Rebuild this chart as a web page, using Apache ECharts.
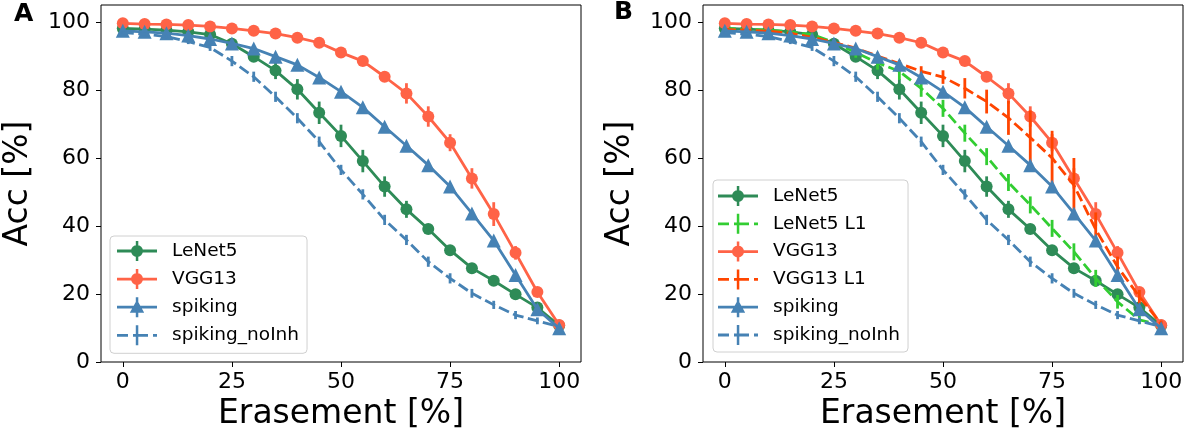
<!DOCTYPE html>
<html>
<head>
<meta charset="utf-8">
<script src="https://cdn.jsdelivr.net/npm/echarts@6/dist/echarts.min.js"></script>
<style>
html,body{margin:0;padding:0;background:#fff;}
#chart{width:1193px;height:438px;}
</style>
</head>
<body>
<div id="chart"></div>
<script>
// ---- data ----
const erasement = [0,5,10,15,20,25,30,35,40,45,50,55,60,65,70,75,80,85,90,95,100];
const xTicks = [0,25,50,75,100];
const yTicks = [0,20,40,60,80,100];

const lenet5      = [98.1,97.9,97.6,97.1,96.3,93.6,89.8,85.7,80.2,73.3,66.5,59.1,51.6,44.9,39.1,32.9,27.6,23.9,19.9,16.0,10.7];
const lenet5Err   = [0.3,0.3,0.3,0.3,0.4,0.6,1.5,2.5,3,3.3,3.3,3.3,3,2.5,1.2,0.8,0.7,0.6,0.5,0.5,0.3];
const lenet5L1    = [98.1,97.9,97.6,97.1,96.3,94.0,91.0,88.0,85.5,80.5,74.6,67.3,60.4,52.8,46.2,39.3,32.4,24.6,17.7,12.4,10.9];
const lenet5L1Err = [0.3,0.3,0.3,0.4,0.5,0.8,1.5,2,2.5,2.5,2.5,2.5,2.5,2.5,2.5,2.5,2.5,2.5,2,1.2,0.5];
const vgg13       = [99.6,99.4,99.3,99.1,98.7,98.1,97.4,96.6,95.4,93.9,91.0,88.5,83.9,79.0,72.2,64.5,54.0,43.5,32.1,20.6,10.9];
const vgg13Err    = [0.2,0.2,0.2,0.2,0.2,0.3,0.3,0.3,0.4,0.5,0.6,1,1.5,3,3,2.5,3,3.5,2,1,0.5];
const vgg13L1     = [97.8,97.6,97.3,96.7,95.5,94.0,92.3,90.0,87.8,85.5,83.8,80.5,76.6,71.8,66.0,60.0,52.0,39.0,28.0,19.2,11.2];
const vgg13L1Err  = [0.3,0.3,0.3,0.4,0.5,0.6,0.8,1,1,1.5,2,3,3.5,5,8,8,8,5,3,2,1];
const spiking     = [97.4,97.1,96.7,96.0,95.0,93.7,92.2,89.8,87.4,83.7,79.5,74.9,69.2,63.6,57.9,51.6,43.7,35.7,25.6,15.5,9.9];
const spikingErr  = [0.2,0.2,0.2,0.2,0.2,0.3,0.3,0.3,0.3,0.3,0.3,0.3,0.3,0.3,0.3,0.3,0.3,0.3,0.3,0.3,0.2];
const noInh       = [96.9,96.4,95.7,94.2,92.5,88.5,83.9,78.0,71.7,64.8,56.5,49.3,41.8,35.9,29.5,24.6,20.2,16.8,13.8,12.1,10.4];
const noInhErr    = [0.3,0.4,0.5,0.7,1,1.5,1.5,1.5,1.5,1.5,1.5,1.5,1.5,1.5,1.5,1.5,1.3,1.2,1.2,1,0.5];

// ---- styles ----
const FONT = 'DejaVu Sans';
const C = {
  lenet: '#2E8B57', lenetL1: '#32CD32', vgg: '#FF6347', vggL1: '#FF4500', spk: '#4682B4'
};
const LW = 2.8;
const ICON_CIRCLE = 'path://M0,8.6h40v2.8h-40z M18.8,0h2.5v20h-2.5z M14,10a6,6 0 1,1 12,0a6,6 0 1,1 -12,0z';
const ICON_TRI = 'path://M0,8.6h40v2.8h-40z M18.8,0h2.5v20h-2.5z M20,2.5L27.2,15.5L12.8,15.5z';
const ICON_DASH = 'path://M0,8.6h11v2.8h-11z M16,8.6h15v2.8h-15z M36,8.6h4v2.8h-4z M18.8,0h2.5v20h-2.5z';

const seriesDefs = [
  {name:'LeNet5', y:lenet5, e:lenet5Err, color:C.lenet, symbol:'circle', size:12, dash:false, icon:ICON_CIRCLE, panels:[0,1]},
  {name:'LeNet5 L1', y:lenet5L1, e:lenet5L1Err, color:C.lenetL1, symbol:'none', size:0, dash:true, icon:ICON_DASH, panels:[1]},
  {name:'VGG13', y:vgg13, e:vgg13Err, color:C.vgg, symbol:'circle', size:12, dash:false, icon:ICON_CIRCLE, panels:[0,1]},
  {name:'VGG13 L1', y:vgg13L1, e:vgg13L1Err, color:C.vggL1, symbol:'none', size:0, dash:true, icon:ICON_DASH, panels:[1]},
  {name:'spiking', y:spiking, e:spikingErr, color:C.spk, symbol:'triangle', size:14, dash:false, icon:ICON_TRI, panels:[0,1]},
  {name:'spiking_noInh', y:noInh, e:noInhErr, color:C.spk, symbol:'none', size:0, dash:true, icon:ICON_DASH, panels:[0,1]}
];

function errRenderer(color){
  return function(params, api){
    const x = api.value(0), y = api.value(1), e = api.value(2);
    const p1 = api.coord([x, y - e]), p2 = api.coord([x, y + e]);
    return {type:'line', shape:{x1:p1[0], y1:p1[1], x2:p2[0], y2:p2[1]},
            style:{stroke:color, lineWidth:LW}};
  };
}

const series = [];
const legendData = [[],[]];
[0,1].forEach(function(p){
  seriesDefs.forEach(function(d, i){
    if (d.panels.indexOf(p) < 0) return;
    series.push({
      type:'custom', name:d.name + '_err' + p, xAxisIndex:p, yAxisIndex:p,
      renderItem: errRenderer(d.color), z: 2 + i*0.1,
      encode:{x:0, y:1},
      data: erasement.map(function(x,k){ return [x, d.y[k], d.e[k]]; }),
      silent:true
    });
    series.push({
      type:'line', name:d.name, xAxisIndex:p, yAxisIndex:p,
      data: erasement.map(function(x,k){ return [x, d.y[k]]; }),
      symbol:d.symbol, symbolSize:d.size, showSymbol:d.symbol !== 'none',
      z: 2 + i*0.1 + 0.05,
      lineStyle:{color:d.color, width:LW, type: d.dash ? [11,4.5] : 'solid'},
      itemStyle:{color:d.color, borderWidth:0},
      emphasis:{disabled:true}, silent:true
    });
    legendData[p].push({name:d.name, icon:d.icon});
  });
});

function xAxis(p){
  return {
    type:'value', gridIndex:p, min:-5, max:105,
    name:'Erasement [%]', nameLocation:'middle', nameGap:27,
    nameTextStyle:{fontFamily:FONT, fontSize:33, color:'#000'},
    axisLine:{show:false, onZero:false},
    axisTick:{show:true, length:5, inside:false, customValues:xTicks, lineStyle:{color:'#000', width:1}},
    axisLabel:{customValues:xTicks, fontFamily:FONT, fontSize:22, color:'#000', margin:9},
    splitLine:{show:false}
  };
}
function yAxis(p){
  return {
    type:'value', gridIndex:p, min:0, max:105,
    name:'Acc [%]', nameLocation:'middle', nameGap:66, nameRotate:90,
    nameTextStyle:{fontFamily:FONT, fontSize:33, color:'#000'},
    axisLine:{show:false, onZero:false},
    axisTick:{show:true, length:5, inside:false, customValues:yTicks, lineStyle:{color:'#000', width:1}},
    axisLabel:{customValues:yTicks, fontFamily:FONT, fontSize:22, color:'#000', margin:11},
    splitLine:{show:false}
  };
}

function legend(p, left, top, padding, gap){
  return {
    orient:'vertical', left:left, top:top, data:legendData[p],
    itemWidth:40, itemHeight:20, itemGap:gap, itemTextGap:15,
    padding:padding, backgroundColor:'rgba(255,255,255,0.8)',
    borderColor:'#d0d0d0', borderWidth:1, borderRadius:4,
    selectedMode:false,
    itemStyle:{borderWidth:0},
    textStyle:{fontFamily:FONT, fontSize:18.5, color:'#000', padding:[0,0,0,10]}
  };
}

const option = {
  animation:false,
  backgroundColor:'#fff',
  grid:[
    {left:101, top:5, width:480, height:357, show:true, borderColor:'#000', borderWidth:1, backgroundColor:'transparent'},
    {left:703, top:5, width:480, height:357, show:true, borderColor:'#000', borderWidth:1, backgroundColor:'transparent'}
  ],
  xAxis:[xAxis(0), xAxis(1)],
  yAxis:[yAxis(0), yAxis(1)],
  legend:[
    legend(0, 110, 236, [5,8,8,7], 8.1),
    legend(1, 713, 180, [6,8,7,5], 7.8)
  ],
  graphic:[
    {type:'text', left:14, top:2, style:{text:'A', fontFamily:FONT, fontWeight:'bold', fontSize:25, fill:'#000'}},
    {type:'text', left:614, top:0, style:{text:'B', fontFamily:FONT, fontWeight:'bold', fontSize:25, fill:'#000'}}
  ],
  series:series
};

const chart = echarts.init(document.getElementById('chart'), null, {renderer:'canvas'});
chart.setOption(option);
</script>
</body>
</html>
